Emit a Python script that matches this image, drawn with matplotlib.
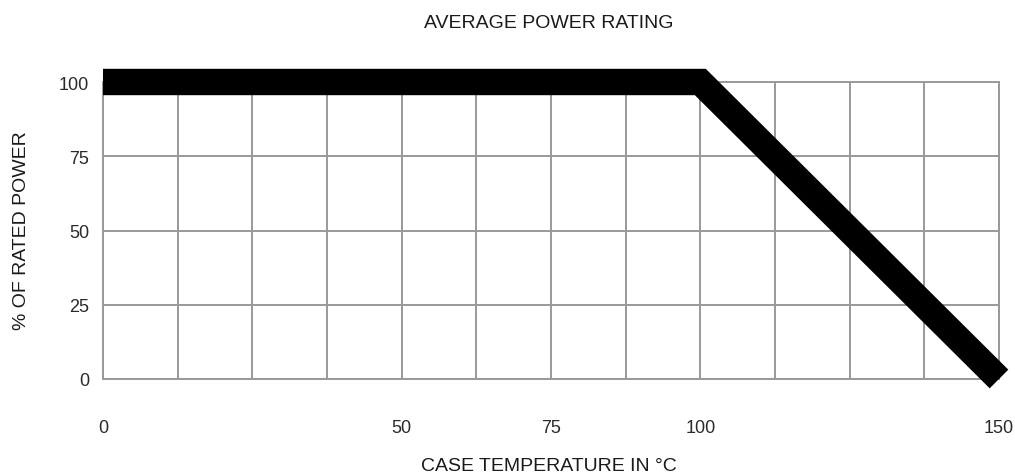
import matplotlib.pyplot as plt
import numpy as np

# derating curve
temp = [0, 100, 150]
power = [100, 100, 0]

x_ticks = [0, 50, 75, 100, 150]
y_ticks = [0, 25, 50, 75, 100]
x_grid = np.arange(0, 151, 12.5)

plt.rcParams['font.family'] = ['Liberation Sans', 'DejaVu Sans']

fig = plt.figure(figsize=(10.15, 4.77), dpi=100)
ax = fig.add_axes([103 / 1015, 1 - 380 / 477, 896 / 1015, 297 / 477])

for xv in x_grid:
    ax.axvline(xv, color='#999999', lw=1.4, zorder=1)
for yv in y_ticks:
    ax.axhline(yv, color='#999999', lw=1.4, zorder=1)

ax.plot(temp, power, color='black', lw=19, solid_capstyle='butt',
        solid_joinstyle='miter', clip_on=False, zorder=3)

ax.set_xlim(0, 150)
ax.set_ylim(0, 100)
ax.set_xticks(x_ticks)
ax.set_yticks(y_ticks)
ax.tick_params(length=0, labelsize=13, colors='#2a2a2a')
ax.tick_params(axis='x', pad=29)
ax.tick_params(axis='y', pad=10)
for s in ax.spines.values():
    s.set_color('#999999')
    s.set_linewidth(1.4)

fig.text(0.541, 1 - 24 / 477, 'AVERAGE POWER RATING', ha='center', va='center',
         fontsize=14, color='#1a1a1a')
fig.text(0.541, 1 - 467 / 477, 'CASE TEMPERATURE IN \u00b0C', ha='center', va='center',
         fontsize=14, color='#1a1a1a')
fig.text(22 / 1015, 1 - 231 / 477, '% OF RATED POWER', ha='center', va='center',
         rotation=90, fontsize=14, color='#1a1a1a')

plt.savefig('out.png', dpi=100)
